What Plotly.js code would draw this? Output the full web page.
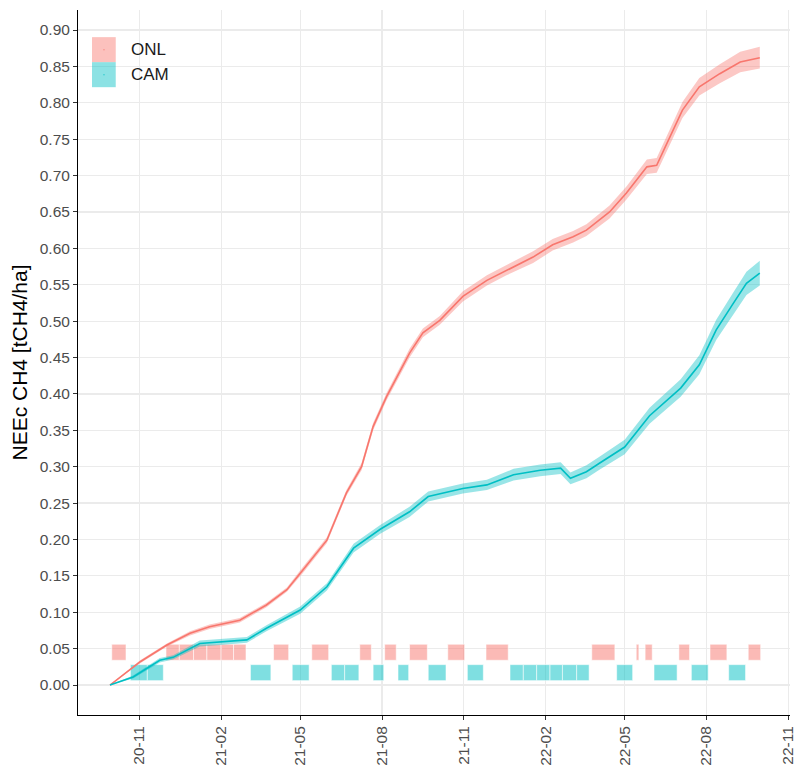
<!DOCTYPE html>
<html>
<head>
<meta charset="utf-8">
<script src="https://cdn.plot.ly/plotly-3.0.1.min.js"></script>
<style>html,body{margin:0;padding:0;background:#fff;}#chart{width:800px;height:769px;}</style>
</head>
<body>
<div id="chart"></div>
<script>
// ---- Data ----
const onlDates = ['2020-09-29','2020-11-02','2020-12-02','2020-12-28','2021-01-19','2021-02-22','2021-03-24','2021-04-16','2021-05-04','2021-05-31','2021-06-22','2021-07-09','2021-07-22','2021-08-06','2021-09-01','2021-09-16','2021-10-05','2021-10-31','2021-11-27','2021-12-19','2022-01-18','2022-02-09','2022-03-04','2022-03-19','2022-04-14','2022-05-03','2022-05-26','2022-06-06','2022-06-21','2022-07-05','2022-07-24','2022-08-16','2022-09-08','2022-09-30'];
const onlValues = [0,0.032,0.055,0.071,0.080,0.089,0.110,0.131,0.158,0.199,0.264,0.300,0.355,0.396,0.456,0.484,0.501,0.534,0.556,0.570,0.588,0.605,0.616,0.625,0.650,0.676,0.712,0.714,0.753,0.790,0.822,0.840,0.856,0.862];
const onlSE = [0,0.002,0.002,0.003,0.003,0.003,0.003,0.003,0.004,0.004,0.004,0.005,0.005,0.005,0.006,0.006,0.006,0.007,0.007,0.007,0.008,0.008,0.008,0.008,0.009,0.009,0.010,0.010,0.011,0.011,0.012,0.013,0.014,0.015];

const camDates = ['2020-09-29','2020-10-25','2020-11-24','2020-12-09','2021-01-08','2021-01-31','2021-03-02','2021-03-24','2021-05-01','2021-05-31','2021-06-30','2021-07-30','2021-09-01','2021-09-22','2021-10-31','2021-11-27','2021-12-27','2022-01-26','2022-02-18','2022-03-01','2022-03-19','2022-04-03','2022-05-01','2022-05-29','2022-07-03','2022-07-24','2022-08-12','2022-08-31','2022-09-15','2022-09-30'];
const camValues = [0,0.011,0.034,0.038,0.057,0.059,0.062,0.078,0.103,0.135,0.188,0.214,0.238,0.259,0.270,0.275,0.289,0.295,0.298,0.284,0.293,0.305,0.327,0.370,0.408,0.440,0.488,0.524,0.552,0.566];
const camSE = [0,0.002,0.003,0.003,0.004,0.004,0.004,0.004,0.005,0.005,0.006,0.006,0.007,0.007,0.007,0.007,0.008,0.008,0.008,0.008,0.009,0.009,0.010,0.011,0.012,0.013,0.014,0.015,0.016,0.017];

// Gap tiles (start, end)
const onlTileStart = ['2020-10-01','2020-12-01','2020-12-16','2021-01-01','2021-01-16','2021-02-01','2021-02-15','2021-04-01','2021-05-14','2021-07-07','2021-08-04','2021-09-01','2021-10-14','2021-11-26','2022-03-25','2022-05-14','2022-05-24','2022-07-01','2022-08-05','2022-09-17'];
const onlTileEnd   = ['2020-10-17','2020-12-16','2021-01-01','2021-01-16','2021-02-01','2021-02-15','2021-03-01','2021-04-18','2021-06-02','2021-07-20','2021-08-17','2021-09-21','2021-11-02','2021-12-21','2022-04-20','2022-05-17','2022-06-01','2022-07-13','2022-08-24','2022-10-01'];
const camTileStart = ['2020-10-22','2020-11-10','2021-03-06','2021-04-22','2021-06-05','2021-06-20','2021-07-22','2021-08-19','2021-09-22','2021-11-05','2021-12-23','2022-01-07','2022-01-22','2022-02-06','2022-02-20','2022-03-08','2022-04-22','2022-06-03','2022-07-15','2022-08-26'];
const camTileEnd   = ['2020-11-10','2020-11-28','2021-03-29','2021-05-11','2021-06-20','2021-07-06','2021-08-03','2021-08-31','2021-10-12','2021-11-23','2022-01-07','2022-01-22','2022-02-06','2022-02-20','2022-03-08','2022-03-22','2022-05-10','2022-06-29','2022-08-03','2022-09-14'];
const onlTileY = 0.045, camTileY = 0.017, tileH = 0.022;

const seriesNames = ['ONL','CAM'];
const tickDates = ['2020-11-01','2021-02-01','2021-05-01','2021-08-01','2021-11-01','2022-02-01','2022-05-01','2022-08-01','2022-11-01'];
const yTicks = [0,0.05,0.10,0.15,0.20,0.25,0.30,0.35,0.40,0.45,0.50,0.55,0.60,0.65,0.70,0.75,0.80,0.85,0.90];

// ---- Build traces ----
const RED = '#F8766D', TEAL = '#00BFC4';
function ribbon(dates, vals, se, color){
  const x = dates.concat(dates.slice().reverse());
  const up = vals.map((v,i)=>v+se[i]);
  const lo = vals.map((v,i)=>v-se[i]).reverse();
  return {x:x, y:up.concat(lo), type:'scatter', mode:'lines', fill:'toself',
    fillcolor:color, line:{width:0}, hoverinfo:'skip', showlegend:false};
}
function tiles(starts, ends, yc, color){
  const t0 = starts.map(s=>new Date(s+'T00:00:00Z').getTime());
  const t1 = ends.map(s=>new Date(s+'T00:00:00Z').getTime());
  const mids = t0.map((a,i)=>new Date((a+t1[i])/2).toISOString());
  return {x:mids, y:starts.map(()=>tileH), base:starts.map(()=>yc - tileH/2),
    width:t0.map((a,i)=>t1[i]-a), type:'bar', marker:{color:color, line:{color:'rgba(255,255,255,0.7)', width:0.8}},
    showlegend:false, hoverinfo:'skip'};
}
const traces = [
  tiles(onlTileStart, onlTileEnd, onlTileY, 'rgba(248,118,109,0.5)'),
  tiles(camTileStart, camTileEnd, camTileY, 'rgba(0,191,196,0.5)'),
  ribbon(onlDates, onlValues, onlSE, 'rgba(248,118,109,0.4)'),
  ribbon(camDates, camValues, camSE, 'rgba(0,191,196,0.4)'),
  {x:onlDates, y:onlValues, type:'scatter', mode:'lines', line:{color:RED, width:1.6}, name:seriesNames[0], showlegend:false},
  {x:camDates, y:camValues, type:'scatter', mode:'lines', line:{color:TEAL, width:1.6}, name:seriesNames[1], showlegend:false}
];

// custom legend (keys + labels)
const legendColors = ['rgba(248,118,109,0.45)','rgba(0,191,196,0.45)'];
const dotColors = [RED, TEAL];
const shapes = [], annotations = [];
seriesNames.forEach((n,i)=>{
  const top = 0.9615 - i*0.0355;
  shapes.push({type:'rect', xref:'paper', yref:'paper', x0:0.0197, x1:0.053, y0:top-0.0355, y1:top,
    fillcolor:legendColors[i], line:{width:0}});
  shapes.push({type:'circle', xref:'paper', yref:'paper', x0:0.0355, x1:0.0375, y0:top-0.0185, y1:top-0.017,
    fillcolor:dotColors[i], line:{width:0}});
  annotations.push({xref:'paper', yref:'paper', x:0.072, y:top-0.0178, text:n, showarrow:false,
    xanchor:'left', yanchor:'middle', font:{family:'Liberation Sans, Arial, sans-serif', size:17, color:'#1a1a1a'}});
});

const layout = {
  width:800, height:769,
  margin:{l:78, r:10, t:10, b:54},
  paper_bgcolor:'#fff', plot_bgcolor:'#fff',
  barmode:'overlay',
  font:{family:'Liberation Sans, Arial, sans-serif', color:'#4D4D4D'},
  xaxis:{type:'date', range:['2020-08-24','2022-11-03'], tickvals:tickDates, tickformat:'%y-%m',
    tickangle:-90, ticks:'outside', ticklen:4, tickcolor:'#333', showline:true, linecolor:'#000', linewidth:1,
    showgrid:true, gridcolor:'#EBEBEB', gridwidth:1.2, zeroline:false, tickfont:{size:15.5, color:'#4D4D4D'}, automargin:false},
  yaxis:{range:[-0.0412, 0.9275], tickvals:yTicks, tickformat:'.2f', ticks:'outside', ticklen:4, tickcolor:'#333',
    showline:true, linecolor:'#000', linewidth:1, showgrid:true, gridcolor:'#EBEBEB', gridwidth:1.2, zeroline:false,
    tickfont:{size:15.5, color:'#4D4D4D'}, automargin:false,
    title:{text:'NEEc CH4 [tCH4/ha]', font:{size:21, color:'#000'}, standoff:6}},
  shapes:shapes, annotations:annotations, showlegend:false
};
Plotly.newPlot('chart', traces, layout, {displayModeBar:false, staticPlot:true});
</script>
</body>
</html>
